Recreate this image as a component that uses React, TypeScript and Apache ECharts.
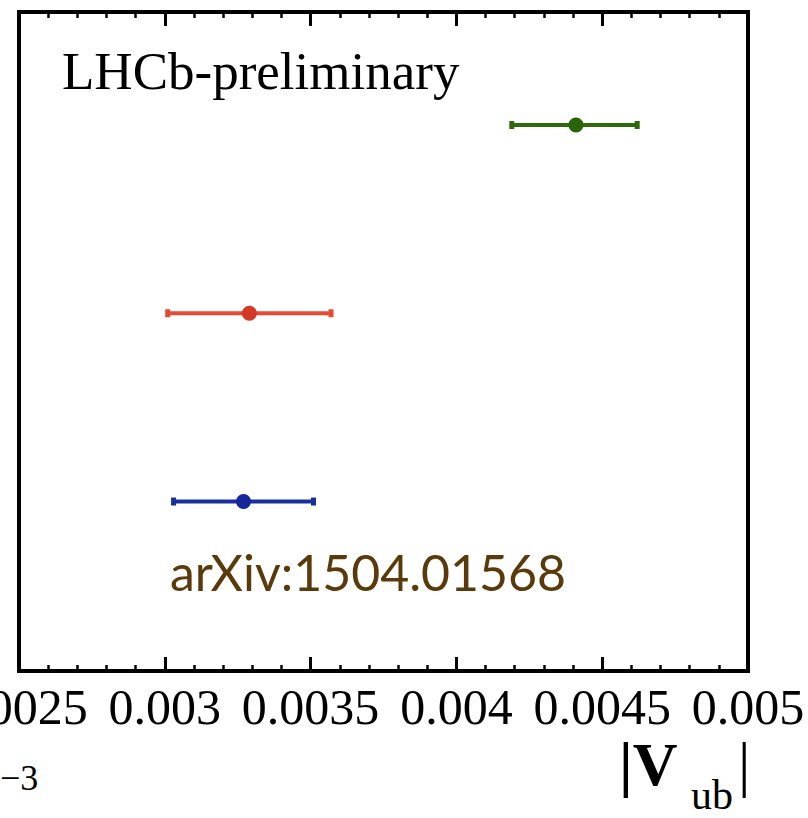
import React, { useEffect, useRef } from "react";
import * as echarts from "echarts";

// ---- data ----
const tickLabels = ["0.0025", "0.003", "0.0035", "0.004", "0.0045", "0.005"];
const xMin = 0.0025;
const xMax = 0.005;
const xInterval = 0.0005;

const measurementNames = ["Lb-exclusive", "B-exclusive", "B-inclusive"];
const rowPositions = [0.9, 1.9, 2.9];
const centralValues = [0.00327, 0.00329, 0.00441];
const lowerValues = [0.00303, 0.00301, 0.00419];
const upperValues = [0.00351, 0.00357, 0.00462];
const lineColors = ["#1a2e9e", "#e64a33", "#2e6a0c"];
const dotColors = ["#15279a", "#d23a27", "#2a6408"];

const serif = "'Liberation Serif', 'DejaVu Serif', serif";

export default function App() {
  const ref = useRef<HTMLDivElement>(null);

  useEffect(() => {
    if (!ref.current) return;
    const chart = echarts.init(ref.current, null, { renderer: "svg" });

    const errData = measurementNames.map((n, i) => ({
      name: n,
      value: [lowerValues[i], upperValues[i], rowPositions[i]],
    }));
    const dotData = measurementNames.map((n, i) => ({
      name: n,
      value: [centralValues[i], rowPositions[i]],
      itemStyle: { color: dotColors[i], opacity: 1 },
    }));

    const labelFmt = (v: number) => {
      const idx = Math.round((v - xMin) / xInterval);
      return tickLabels[idx] ?? "";
    };

    const commonX = {
      type: "value" as const,
      min: xMin,
      max: xMax,
      interval: xInterval,
      splitLine: { show: false },
      axisLine: { show: false },
      axisTick: {
        show: true,
        inside: true,
        length: 14,
        lineStyle: { color: "#000", width: 3 },
      },
      minorTick: {
        show: true,
        splitNumber: 5,
        length: 6,
        lineStyle: { color: "#000", width: 2.5 },
      },
      minorSplitLine: { show: false },
    };

    chart.setOption({
      animation: false,
      backgroundColor: "#fff",
      grid: {
        left: 19,
        right: 60,
        top: 12,
        bottom: 147,
        containLabel: false,
        outerBoundsMode: "none",
        show: true,
        borderColor: "#000",
        borderWidth: 4,
        backgroundColor: "transparent",
      },
      xAxis: [
        {
          ...commonX,
          position: "bottom",
          axisLabel: {
            show: true,
            formatter: labelFmt,
            fontFamily: serif,
            fontSize: 50,
            lineHeight: 44,
            color: "#000",
            margin: 14,
            showMinLabel: true,
            showMaxLabel: true,
            hideOverlap: false,
          },
        },
        {
          ...commonX,
          position: "top",
          axisLabel: { show: false },
        },
      ],
      yAxis: {
        type: "value",
        min: 0,
        max: 3.5,
        show: false,
      },
      series: [
        {
          type: "custom",
          xAxisIndex: 0,
          data: errData,
          encode: { x: [0, 1], y: 2 },
          z: 2,
          renderItem: (params: any, api: any) => {
            const y = api.value(2);
            const p1 = api.coord([api.value(0), y]);
            const p2 = api.coord([api.value(1), y]);
            const c = lineColors[params.dataIndex];
            return {
              type: "group",
              children: [
                {
                  type: "line",
                  shape: { x1: p1[0], y1: p1[1], x2: p2[0], y2: p2[1] },
                  style: { stroke: c, lineWidth: 4 },
                },
                {
                  type: "rect",
                  shape: { x: p1[0] - 2.5, y: p1[1] - 4, width: 5, height: 8 },
                  style: { fill: c },
                },
                {
                  type: "rect",
                  shape: { x: p2[0] - 2.5, y: p2[1] - 4, width: 5, height: 8 },
                  style: { fill: c },
                },
              ],
            };
          },
        },
        {
          type: "scatter",
          xAxisIndex: 0,
          data: dotData,
          symbol: "circle",
          symbolSize: 15,
          itemStyle: { opacity: 1 },
          z: 3,
        },
      ],
      graphic: [
        {
          type: "text",
          left: 62,
          top: 44,
          style: {
            text: "LHCb-preliminary",
            font: `53px ${serif}`,
            fill: "#000",
          },
        },
        {
          type: "text",
          left: 170,
          top: 547,
          style: {
            text: "arXiv:1504.01568",
            font: `50px Lato, 'Open Sans', sans-serif`,
            fill: "#5a3a0b",
          },
        },
        {
          type: "text",
          left: 619,
          top: 733,
          style: {
            text: "|V",
            font: `bold 62px ${serif}`,
            lineHeight: 56,
            fill: "#000",
          },
        },
        {
          type: "text",
          left: 691,
          top: 774,
          style: {
            text: "ub",
            font: `42px ${serif}`,
            lineHeight: 36,
            fill: "#000",
          },
        },
        {
          type: "text",
          left: 738,
          top: 733,
          style: {
            text: "|",
            font: `62px ${serif}`,
            lineHeight: 56,
            fill: "#000",
          },
        },
        {
          type: "text",
          left: 0,
          top: 760,
          style: {
            text: "\u22123",
            font: `36px ${serif}`,
            fill: "#000",
          },
        },
      ],
    });

    return () => chart.dispose();
  }, []);

  return (
    <div
      ref={ref}
      style={{ position: "fixed", left: 0, top: 0, width: 808, height: 818 }}
    />
  );
}
